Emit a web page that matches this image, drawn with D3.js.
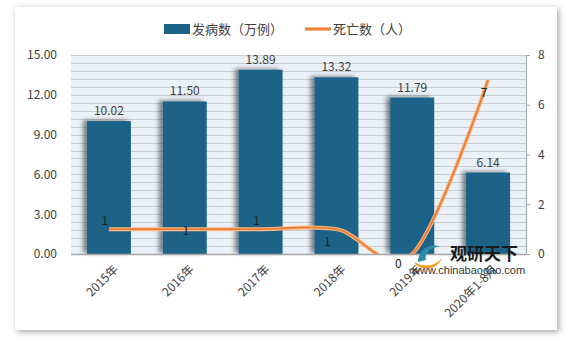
<!DOCTYPE html>
<html>
<head>
<meta charset="utf-8">
<script src="https://cdn.jsdelivr.net/npm/d3@7"></script>
<style>
  body { margin: 0; background: #ffffff; }
  svg { display: block; }
</style>
</head>
<body>
<div id="chart"></div>
<script>
// chart data
var years = ['2015年', '2016年', '2017年', '2018年', '2019年', '2020年1-8月'];
var cases = [10.02, 11.50, 13.89, 13.32, 11.79, 6.14];
var deaths = [1, 1, 1, 1, 0, 7];
var leftTicks = [0, 3, 6, 9, 12, 15];
var rightTicks = [0, 2, 4, 6, 8];
var seriesNames = ['发病数（万例）', '死亡数（人）'];

var W = 571, H = 342;
var mainFont = '"Noto Sans CJK SC", "Liberation Sans", sans-serif';
var barColor = '#1b6387';
var lineColor = '#ed7d31';
var textColor = '#404040';

var plot = { left: 71, right: 526, top: 55, bottom: 254 };

// label nudges for the line's data labels (dx, dy from the point)
var deathLabelOffset = [[-4, -4], [1, 6], [-4, -4], [-9, 17], [-14, 14], [-4, 17]];

window.onload = function() {
    render();
};

function render() {
    var svg = d3.select('#chart').append('svg')
        .attr('width', W)
        .attr('height', H);

    var defs = svg.append('defs');
    var shadow = defs.append('filter').attr('id', 'card-shadow')
        .attr('x', '-5%').attr('y', '-5%').attr('width', '110%').attr('height', '110%');
    shadow.append('feDropShadow')
        .attr('dx', 2).attr('dy', 2).attr('stdDeviation', 3)
        .attr('flood-color', '#000').attr('flood-opacity', 0.35);

    var barShadow = defs.append('filter').attr('id', 'bar-shadow')
        .attr('x', '-30%').attr('y', '-10%').attr('width', '140%').attr('height', '120%');
    barShadow.append('feDropShadow')
        .attr('dx', -4).attr('dy', -1).attr('stdDeviation', 2)
        .attr('flood-color', '#000').attr('flood-opacity', 0.45);

    defs.append('clipPath').attr('id', 'plot-clip')
        .append('rect')
        .attr('x', plot.left).attr('y', plot.top - 5)
        .attr('width', plot.right - plot.left).attr('height', plot.bottom - plot.top + 5);

    // the white card
    svg.append('rect')
        .attr('x', 15).attr('y', 7)
        .attr('width', 542).attr('height', 323)
        .attr('fill', '#fff')
        .attr('filter', 'url(#card-shadow)');

    var x = d3.scaleBand().domain(years).range([plot.left, plot.right]).paddingInner(0.42).paddingOuter(0.21);
    var yL = d3.scaleLinear().domain([0, 15]).range([plot.bottom, plot.top]);
    var yR = d3.scaleLinear().domain([0, 8]).range([plot.bottom, plot.top]);

    // plot background with dense grid
    svg.append('rect')
        .attr('x', plot.left).attr('y', plot.top)
        .attr('width', plot.right - plot.left).attr('height', plot.bottom - plot.top)
        .attr('fill', '#eaf1f8');

    var gridVals = d3.range(0, 15.0001, 0.6);
    svg.append('g').selectAll('line')
        .data(gridVals)
        .join('line')
        .attr('x1', plot.left).attr('x2', plot.right)
        .attr('y1', function(d) { return Math.round(yL(d)) + 0.5; })
        .attr('y2', function(d) { return Math.round(yL(d)) + 0.5; })
        .attr('stroke', '#c9cdd2')
        .attr('stroke-width', 1);

    // bars
    svg.append('g').selectAll('rect')
        .data(cases)
        .join('rect')
        .attr('x', function(d, i) { return x(years[i]); })
        .attr('y', function(d) { return yL(d); })
        .attr('width', x.bandwidth())
        .attr('height', function(d) { return plot.bottom - yL(d); })
        .attr('fill', barColor)
        .attr('filter', 'url(#bar-shadow)');

    // bar value labels
    svg.append('g').selectAll('text')
        .data(cases)
        .join('text')
        .attr('x', function(d, i) { return x(years[i]) + x.bandwidth() / 2; })
        .attr('y', function(d) { return yL(d) - 6; })
        .attr('text-anchor', 'middle')
        .style('font-family', mainFont)
        .style('font-size', '12px')
        .attr('fill', textColor)
        .text(function(d) { return d.toFixed(2); });

    // bottom axis line
    svg.append('line')
        .attr('x1', plot.left).attr('x2', plot.right)
        .attr('y1', plot.bottom + 0.5).attr('y2', plot.bottom + 0.5)
        .attr('stroke', '#a6a6a6').attr('stroke-width', 1.5);

    // left axis
    var leftAxis = svg.append('g')
        .attr('transform', 'translate(' + plot.left + ',0)')
        .call(d3.axisLeft(yL).tickValues(leftTicks).tickSize(0).tickPadding(14)
            .tickFormat(function(d) { return d.toFixed(2); }));
    leftAxis.select('.domain').remove();
    leftAxis.selectAll('text')
        .style('font-family', mainFont)
        .style('font-size', '12px')
        .attr('fill', textColor);

    // right axis
    var rightAxis = svg.append('g')
        .attr('transform', 'translate(' + plot.right + ',0)')
        .call(d3.axisRight(yR).tickValues(rightTicks).tickSize(4).tickSizeOuter(4).tickPadding(8));
    rightAxis.select('.domain').attr('stroke', '#a6a6a6');
    rightAxis.selectAll('.tick line').attr('stroke', '#a6a6a6');
    rightAxis.selectAll('text')
        .style('font-family', mainFont)
        .style('font-size', '12px')
        .attr('fill', textColor);

    // x labels rotated
    svg.append('g').selectAll('text')
        .data(years)
        .join('text')
        .attr('transform', function(d) {
            return 'translate(' + (x(d) + x.bandwidth() / 2 + 4) + ',' + (plot.bottom + 10) + ') rotate(-45)';
        })
        .attr('text-anchor', 'end')
        .attr('dy', '0.7em')
        .style('font-family', mainFont)
        .style('font-size', '12px')
        .attr('fill', textColor)
        .text(function(d) { return d; });

    // smooth death line, clipped to plot
    var line = d3.line()
        .x(function(d, i) { return x(years[i]) + x.bandwidth() / 2; })
        .y(function(d) { return yR(d); })
        .curve(d3.curveCatmullRom.alpha(0));

    var lineGroup = svg.append('g').attr('clip-path', 'url(#plot-clip)');
    lineGroup.append('path')
        .datum(deaths)
        .attr('d', line)
        .attr('fill', 'none')
        .attr('stroke', '#f6b98a')
        .attr('stroke-width', 4);
    lineGroup.append('path')
        .datum(deaths)
        .attr('d', line)
        .attr('fill', 'none')
        .attr('stroke', lineColor)
        .attr('stroke-width', 1.8);

    // death labels
    svg.append('g').selectAll('text')
        .data(deaths)
        .join('text')
        .attr('x', function(d, i) { return x(years[i]) + x.bandwidth() / 2 + deathLabelOffset[i][0]; })
        .attr('y', function(d, i) { return yR(d) + deathLabelOffset[i][1]; })
        .attr('text-anchor', 'middle')
        .style('font-family', mainFont)
        .style('font-size', '12px')
        .attr('fill', '#222')
        .text(function(d) { return d; });

    // legend
    var legend = svg.append('g');
    legend.append('rect')
        .attr('x', 164).attr('y', 24).attr('width', 26).attr('height', 10)
        .attr('fill', barColor);
    legend.append('text')
        .attr('x', 192).attr('y', 34)
        .style('font-family', mainFont).style('font-size', '13px')
        .attr('fill', textColor)
        .text(seriesNames[0]);
    legend.append('line')
        .attr('x1', 305).attr('x2', 331).attr('y1', 29).attr('y2', 29)
        .attr('stroke', '#f6b98a').attr('stroke-width', 4);
    legend.append('line')
        .attr('x1', 305).attr('x2', 331).attr('y1', 29).attr('y2', 29)
        .attr('stroke', lineColor).attr('stroke-width', 1.8);
    legend.append('text')
        .attr('x', 333).attr('y', 34)
        .style('font-family', mainFont).style('font-size', '13px')
        .attr('fill', textColor)
        .text(seriesNames[1]);

    // watermark
    var wm = svg.append('g');
    wm.append('path')
        .attr('d', 'M418,262 C418,250 430,242 440,247 C432,246 424,252 426,260 Z')
        .attr('fill', '#2b8fa8');
    wm.append('path')
        .attr('d', 'M414,262 C420,272 438,270 442,258 C436,266 424,268 414,262 Z')
        .attr('fill', '#f29b1d');
    wm.append('text')
        .attr('x', 450).attr('y', 260)
        .style('font-family', mainFont).style('font-size', '17px').style('font-weight', 'bold')
        .attr('fill', '#1a1a1a')
        .text('观研天下');
    wm.append('text')
        .attr('x', 412).attr('y', 274)
        .style('font-family', '"Liberation Sans", sans-serif').style('font-size', '11px')
        .attr('fill', '#333')
        .text('www.chinabaogao.com');
}
</script>
</body>
</html>
